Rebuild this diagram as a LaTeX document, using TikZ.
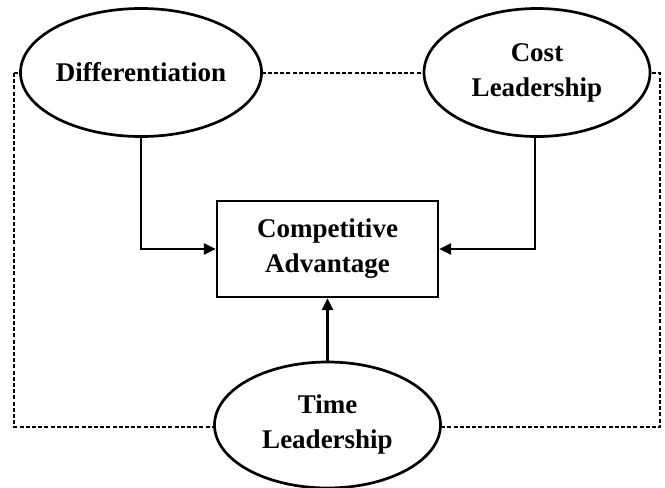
\documentclass[tikz,border=0pt]{standalone}
\usepackage{fontspec}
\setmainfont{Liberation Serif}
\usetikzlibrary{shapes.geometric,arrows.meta}
\begin{document}
\begin{tikzpicture}[x=1pt,y=-1pt,
  lbl/.style={font=\fontsize{27}{35}\selectfont\bfseries,align=center,text=black},
  oval/.style={ellipse,draw,line width=2.7pt,fill=white,inner sep=0pt,minimum width=226pt,minimum height=128pt,lbl},
  conn/.style={line width=2.7pt,-{Triangle[length=12pt,width=11pt]}},
  dashline/.style={line width=2.4pt,dash pattern=on 4pt off 2.2pt}]
\useasboundingbox (0,0) rectangle (665,488);
\coordinate (tl) at (14,73);
\coordinate (br) at (660,427);
\draw[dashline] (tl) rectangle (br);
\node[oval] (diff) at (141,72.5) {Differentiation};
\node[oval] (cost) at (537,72.5) {Cost\\Leadership};
\node[oval,minimum height=126pt] (time) at (327.5,425) {Time\\Leadership};
\node[draw,line width=2.3pt,minimum width=221pt,minimum height=96pt,lbl,fill=white] (box) at (327.5,249) {Competitive\\Advantage};
\draw[conn] (diff.south) |- (box.west);
\draw[conn] (cost.south -| 535,0) |- (box.east);
\draw[conn] (time.north) -- (box.south);
\end{tikzpicture}
\end{document}
